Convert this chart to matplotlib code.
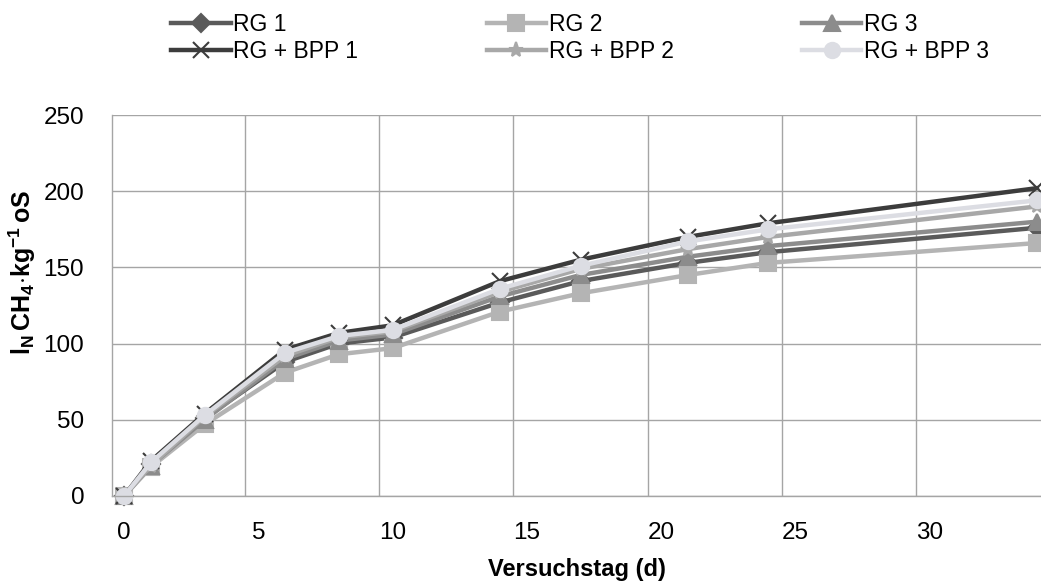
import matplotlib
matplotlib.use("Agg")
import matplotlib.pyplot as plt
import numpy as np

plt.rcParams['font.family'] = ['Liberation Sans', 'DejaVu Sans']
plt.rcParams['mathtext.fontset'] = 'custom'
plt.rcParams['mathtext.rm'] = 'Liberation Sans'
plt.rcParams['mathtext.bf'] = 'Liberation Sans:bold'

days = [0, 1, 3, 6, 8, 10, 14, 17, 21, 24, 34]

rg1 = [0, 21, 51, 88, 100, 104, 127, 141, 153, 160, 176]
rg2 = [0, 19, 47, 81, 93, 97, 121, 133, 145, 153, 166]
rg3 = [0, 20, 50, 90, 102, 106, 131, 145, 157, 164, 180]
bpp1 = [0, 23, 54, 96, 107, 112, 141, 155, 170, 179, 202]
bpp2 = [0, 20, 52, 92, 104, 108, 134, 149, 162, 170, 190]
bpp3 = [0, 22, 53, 94, 105, 109, 136, 151, 167, 175, 194]

labels = ['RG 1', 'RG 2', 'RG 3', 'RG + BPP 1', 'RG + BPP 2', 'RG + BPP 3']
series = [rg1, rg2, rg3, bpp1, bpp2, bpp3]
colors = ['#5a5a5a', '#b4b4b4', '#8c8c8c', '#3c3c3c', '#a8a8a8', '#dcdde3']
markers = ['D', 's', '^', 'x', '*', 'o']

fig = plt.figure(figsize=(10.41, 5.81), dpi=100)
ax = fig.add_axes([112 / 1041, 1 - 496 / 581, 1 - 112 / 1041, (496 - 115) / 581])

lines = []
for vals, lab, col, mk in zip(series, labels, colors, markers):
    ms = 9 if mk == 'D' else 11
    ln, = ax.plot(days, vals, color=col, lw=3.2, marker=mk, markersize=ms,
                  markerfacecolor=col, markeredgecolor=col, markeredgewidth=1.5,
                  label=lab, clip_on=False)
    lines.append(ln)

ax.set_xlim(-0.45, 34.15)
ax.set_ylim(0, 250)
ax.set_xticks([0, 5, 10, 15, 20, 25, 30])
ax.set_xticks([4.5, 9.5, 14.5, 19.5, 24.5, 29.5], minor=True)
ax.set_yticks([0, 50, 100, 150, 200, 250])
ax.tick_params(axis='both', which='both', length=0, labelsize=17.5)
ax.tick_params(axis='x', pad=19)
ax.tick_params(axis='y', pad=20)
ax.grid(True, which='minor', axis='x', color='#a5a5a5', lw=1)
ax.grid(True, which='major', axis='y', color='#a5a5a5', lw=1)
ax.set_axisbelow(True)
for s in ['top', 'right']:
    ax.spines[s].set_visible(False)
for s in ['left', 'bottom']:
    ax.spines[s].set_color('#a5a5a5')
    ax.spines[s].set_linewidth(1)

ax.set_xlabel('Versuchstag (d)', fontsize=17, fontweight='bold', labelpad=10)
fig.text(22 / 1041, 1 - 272 / 581, r'$\mathbf{l_N\,CH_4{\cdot}kg^{-1}\,oS}$',
         rotation=90, ha='center', va='center', fontsize=18)

# legend fills column by column, so order to get rows RG / RG + BPP
order = [0, 3, 1, 4, 2, 5]
fig.legend([lines[i] for i in order], [labels[i] for i in order],
           loc='upper left', bbox_to_anchor=(160 / 1041, 1 - 2 / 581), ncol=3,
           frameon=False, fontsize=16.5, handlelength=2.6, handletextpad=0.1,
           columnspacing=5.6, labelspacing=0.15, borderpad=0)

fig.savefig('out.png', dpi=100)
